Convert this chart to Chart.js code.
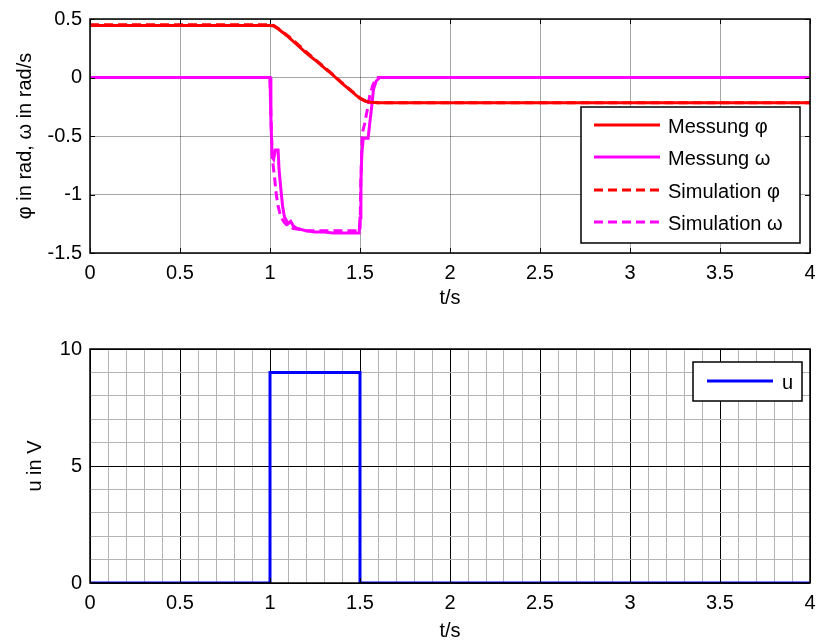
<!DOCTYPE html>
<html><head><meta charset="utf-8">
<script src="https://cdn.jsdelivr.net/npm/chart.js@4.4.0/dist/chart.umd.min.js"></script>
<style>
html,body{margin:0;padding:0;background:#fff;}
#wrap{position:relative;width:819px;height:643px;overflow:hidden;}
canvas{position:absolute;left:0;}
#c1{top:0;} #c2{top:321px;}
</style></head><body>
<div id="wrap"><canvas id="c1" width="819" height="321"></canvas><canvas id="c2" width="819" height="322"></canvas></div>
<script>
// ---- data ----
const tPhiMeas = [0, 1.0, 1.02, 1.05, 1.1, 1.15, 1.2, 1.25, 1.3, 1.35, 1.4, 1.45, 1.5, 1.53, 1.56, 1.6, 4];
const phiMeas  = [0.445, 0.445, 0.44, 0.41, 0.35, 0.28, 0.21, 0.15, 0.085, 0.02, -0.05, -0.115, -0.18, -0.203, -0.212, -0.215, -0.215];

const tPhiSim = [0, 1.0, 1.02, 1.05, 1.1, 1.15, 1.2, 1.25, 1.3, 1.35, 1.4, 1.45, 1.5, 1.53, 1.56, 1.6, 4];
const phiSim  = [0.45, 0.45, 0.445, 0.415, 0.355, 0.29, 0.22, 0.155, 0.09, 0.025, -0.045, -0.11, -0.175, -0.2, -0.21, -0.215, -0.215];

const tOmegaMeas = [0, 1.0, 1.005, 1.012, 1.02, 1.03, 1.045, 1.05, 1.06, 1.07, 1.08, 1.1, 1.115, 1.13, 1.15, 1.2, 1.25, 1.3, 1.35, 1.4, 1.45, 1.495, 1.5, 1.505, 1.51, 1.518, 1.53, 1.545, 1.555, 1.565, 1.575, 1.59, 1.61, 1.65, 4];
const omegaMeas  = [0, 0, -0.35, -0.68, -0.70, -0.62, -0.62, -0.78, -0.95, -1.10, -1.19, -1.25, -1.23, -1.27, -1.29, -1.31, -1.32, -1.32, -1.33, -1.33, -1.33, -1.33, -1.2, -0.9, -0.65, -0.52, -0.52, -0.52, -0.38, -0.25, -0.10, -0.03, 0, 0, 0];

const tOmegaSim = [0, 1.0, 1.008, 1.015, 1.025, 1.035, 1.045, 1.06, 1.08, 1.1, 1.13, 1.17, 1.2, 1.3, 1.4, 1.5, 1.505, 1.512, 1.525, 1.54, 1.555, 1.57, 1.585, 1.6, 1.62, 4];
const omegaSim  = [0, 0, -0.5, -0.72, -0.85, -1.0, -1.1, -1.19, -1.24, -1.27, -1.29, -1.30, -1.31, -1.31, -1.31, -1.31, -0.9, -0.48, -0.40, -0.28, -0.15, -0.07, -0.02, 0, 0, 0];

const tU = [0, 1, 1, 1.5, 1.5, 4];
const uV = [0, 0, 9, 9, 0, 0];

const labelsTop = ['Messung \u03C6', 'Messung \u03C9', 'Simulation \u03C6', 'Simulation \u03C9'];
const labelsBottom = ['u'];
const xTitle = 't/s';
const yTitleTop = '\u03C6 in rad, \u03C9 in rad/s';
const yTitleBottom = 'u in V';

const pts = (xs, ys) => xs.map((x, i) => ({x, y: ys[i]}));

Chart.defaults.font.family = "'Liberation Sans', Arial, sans-serif";
Chart.defaults.font.size = 20;
Chart.defaults.color = '#000';

const fmt = v => String(Math.round(v * 10) / 10);
const isMult = (v, s) => Math.abs(v / s - Math.round(v / s)) < 1e-6;

const framePlugin = {
  id: 'frame',
  afterDraw(chart, args, o) {
    const {ctx, chartArea: a, scales} = chart;
    ctx.save();
    ctx.strokeStyle = '#000';
    ctx.lineWidth = 1;
    const L = 5;
    ctx.beginPath();
    scales.x.ticks.forEach(t => {
      if (!isMult(t.value, o.mx)) return;
      const px = Math.round(scales.x.getPixelForValue(t.value)) + 0.5;
      ctx.moveTo(px, a.bottom); ctx.lineTo(px, a.bottom - L);
      ctx.moveTo(px, a.top); ctx.lineTo(px, a.top + L);
    });
    scales.y.ticks.forEach(t => {
      if (!isMult(t.value, o.my)) return;
      const py = Math.round(scales.y.getPixelForValue(t.value)) + 0.5;
      ctx.moveTo(a.left, py); ctx.lineTo(a.left + L, py);
      ctx.moveTo(a.right, py); ctx.lineTo(a.right - L, py);
    });
    ctx.stroke();
    ctx.lineWidth = 1.5;
    ctx.strokeRect(a.left, a.top, a.right - a.left, a.bottom - a.top);
    // legend
    const lg = o.legend;
    ctx.fillStyle = '#fff';
    ctx.fillRect(lg.x, lg.y, lg.w, lg.h);
    ctx.lineWidth = 1.5;
    ctx.strokeStyle = '#000';
    ctx.strokeRect(lg.x, lg.y, lg.w, lg.h);
    ctx.font = "20px 'Liberation Sans', Arial, sans-serif";
    ctx.textBaseline = 'middle';
    ctx.textAlign = 'left';
    chart.data.datasets.forEach((ds, i) => {
      const yy = lg.rows[i];
      ctx.beginPath();
      ctx.strokeStyle = ds.borderColor;
      ctx.lineWidth = ds.borderWidth;
      ctx.setLineDash(ds.borderDash || []);
      ctx.moveTo(lg.l0, yy); ctx.lineTo(lg.l1, yy);
      ctx.stroke();
      ctx.setLineDash([]);
      ctx.fillStyle = '#000';
      ctx.fillText(ds.label, lg.tx, yy + 2);
    });
    ctx.restore();
  }
};

const lineDs = (label, data, color, dash) => ({
  label, data, borderColor: color, backgroundColor: color, borderWidth: 3,
  borderDash: dash, pointRadius: 0, tension: 0, fill: false
});

const fitX = h => s => { s.height = h; s.paddingLeft = 0; s.paddingRight = 0; };
const fitY = w => s => { s.width = w; s.paddingTop = 0; s.paddingBottom = 0; };

new Chart(document.getElementById('c1'), {
  type: 'line',
  data: {
    datasets: [
      lineDs(labelsTop[0], pts(tPhiMeas, phiMeas), '#ff0000', []),
      lineDs(labelsTop[1], pts(tOmegaMeas, omegaMeas), '#ff00ff', []),
      lineDs(labelsTop[2], pts(tPhiSim, phiSim), '#ff0000', [9, 5]),
      lineDs(labelsTop[3], pts(tOmegaSim, omegaSim), '#ff00ff', [9, 5])
    ]
  },
  options: {
    responsive: false, animation: false,
    layout: {padding: {top: 19, right: 9, left: 0, bottom: 0}},
    plugins: {
      legend: {display: false}, tooltip: {enabled: false},
      frame: {mx: 0.5, my: 0.5, legend: {x: 581, y: 107, w: 219, h: 136, rows: [125, 157, 190, 222], l0: 594, l1: 660, tx: 668}}
    },
    scales: {
      x: {
        type: 'linear', min: 0, max: 4,
        ticks: {stepSize: 0.5, padding: 8, maxRotation: 0, autoSkip: false, callback: fmt},
        grid: {color: 'rgba(0,0,0,0.35)', drawTicks: false},
        border: {display: false},
        title: {display: true, text: xTitle, padding: {top: 0, bottom: 11}},
        afterFit: fitX(68)
      },
      y: {
        type: 'linear', min: -1.5, max: 0.5,
        ticks: {stepSize: 0.5, padding: 8, callback: fmt},
        grid: {color: 'rgba(0,0,0,0.35)', drawTicks: false},
        border: {display: false},
        title: {display: true, text: yTitleTop, padding: {top: 13, bottom: 0}},
        afterFit: fitY(90)
      }
    }
  },
  plugins: [framePlugin]
});

new Chart(document.getElementById('c2'), {
  type: 'line',
  data: {
    datasets: [
      lineDs(labelsBottom[0], pts(tU, uV), '#0000ff', [])
    ]
  },
  options: {
    responsive: false, animation: false,
    layout: {padding: {top: 28, right: 9, left: 0, bottom: 0}},
    plugins: {
      legend: {display: false}, tooltip: {enabled: false},
      frame: {mx: 0.5, my: 5, legend: {x: 693, y: 41, w: 109, h: 39, rows: [60], l0: 707, l1: 773, tx: 782}}
    },
    scales: {
      x: {
        type: 'linear', min: 0, max: 4,
        ticks: {stepSize: 0.1, padding: 8, maxRotation: 0, autoSkip: false,
          callback: v => isMult(v, 0.5) ? fmt(v) : ''},
        grid: {color: c => isMult(c.tick.value, 0.5) ? '#000' : '#b4b4b4', drawTicks: false},
        border: {display: false},
        title: {display: true, text: xTitle, padding: {top: 0, bottom: 0}},
        afterFit: fitX(60)
      },
      y: {
        type: 'linear', min: 0, max: 10,
        ticks: {stepSize: 1, padding: 8, autoSkip: false, callback: v => isMult(v, 5) ? fmt(v) : ''},
        grid: {color: c => isMult(c.tick.value, 5) ? '#000' : '#b4b4b4', drawTicks: false},
        border: {display: false},
        title: {display: true, text: yTitleBottom, padding: {top: 23, bottom: 0}},
        afterFit: fitY(90)
      }
    }
  },
  plugins: [framePlugin]
});
</script>
</body></html>
